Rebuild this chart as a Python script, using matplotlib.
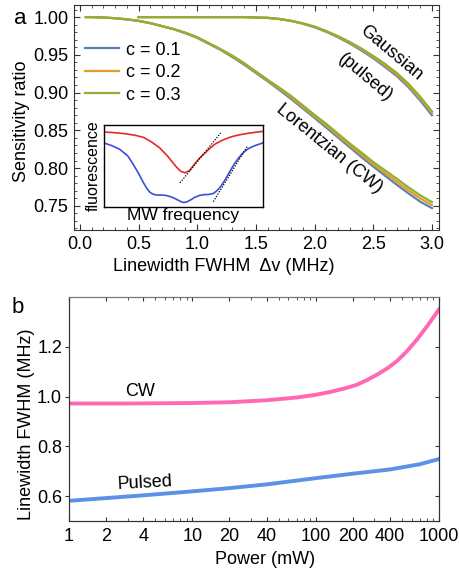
import matplotlib
matplotlib.use("Agg")
import matplotlib.pyplot as plt
from matplotlib.ticker import FixedLocator, NullFormatter, MultipleLocator

plt.rcParams['font.family'] = ['Liberation Sans', 'DejaVu Sans']

# panel a: sensitivity ratio vs linewidth
lor_x = [0.05, 0.1, 0.2, 0.3, 0.4, 0.5, 0.6, 0.7, 0.8, 0.9, 1.0, 1.1, 1.2, 1.3, 1.4, 1.5,
         1.6, 1.7, 1.8, 1.9, 2.0, 2.1, 2.2, 2.3, 2.4, 2.5, 2.6, 2.7, 2.8, 2.9, 3.0]
lor_c1 = [1.000, 1.000, 0.9995, 0.9985, 0.997, 0.995, 0.992, 0.988, 0.984, 0.9785, 0.9725,
          0.9645, 0.9565, 0.947, 0.937, 0.926, 0.915, 0.9035, 0.8915, 0.879, 0.8665, 0.8535,
          0.8405, 0.8275, 0.8145, 0.802, 0.790, 0.778, 0.7665, 0.7555, 0.747]
lor_c2 = [1.000, 1.000, 0.9995, 0.9985, 0.997, 0.995, 0.992, 0.988, 0.984, 0.979, 0.973,
          0.965, 0.957, 0.948, 0.938, 0.927, 0.916, 0.905, 0.8935, 0.881, 0.8685, 0.856,
          0.843, 0.830, 0.8175, 0.805, 0.7935, 0.782, 0.7705, 0.760, 0.751]
lor_c3 = [1.000, 1.000, 0.9995, 0.9985, 0.997, 0.995, 0.992, 0.988, 0.984, 0.9795, 0.9735,
          0.9655, 0.9575, 0.949, 0.939, 0.928, 0.917, 0.9065, 0.8955, 0.883, 0.8705, 0.8585,
          0.8455, 0.8325, 0.8205, 0.808, 0.797, 0.786, 0.7745, 0.764, 0.755]

gau_x = [0.5, 0.8, 1.1, 1.4, 1.5, 1.6, 1.7, 1.8, 1.9, 2.0, 2.1, 2.2, 2.3, 2.4, 2.5, 2.6,
         2.7, 2.8, 2.9, 3.0]
gau_c1 = [1.000, 1.000, 1.000, 1.000, 0.9995, 0.999, 0.9975, 0.995, 0.9912, 0.9865, 0.9805,
          0.9732, 0.965, 0.9557, 0.9455, 0.934, 0.922, 0.9072, 0.8895, 0.870]
gau_c2 = [1.000, 1.000, 1.000, 1.000, 0.9995, 0.999, 0.9975, 0.995, 0.9915, 0.987, 0.981,
          0.974, 0.966, 0.957, 0.947, 0.936, 0.924, 0.9095, 0.892, 0.873]
gau_c3 = [1.000, 1.000, 1.000, 1.000, 0.9995, 0.999, 0.9975, 0.995, 0.9918, 0.9875, 0.9815,
          0.9748, 0.967, 0.9583, 0.9485, 0.938, 0.926, 0.9118, 0.8945, 0.875]

c_labels = ['c = 0.1', 'c = 0.2', 'c = 0.3']
c_colors = ['#5E81B5', '#E19C24', '#8FB032']

# inset: sketch of fluorescence dips (box-normalised)
red_x = [0.0, 0.05, 0.10, 0.15, 0.20, 0.25, 0.30, 0.35, 0.40, 0.45, 0.48, 0.51, 0.54, 0.57,
         0.60, 0.63, 0.66, 0.70, 0.75, 0.80, 0.85, 0.90, 0.95, 1.0]
red_y = [0.911, 0.905, 0.897, 0.886, 0.870, 0.845, 0.79, 0.72, 0.62, 0.50, 0.438, 0.415,
         0.445, 0.52, 0.59, 0.645, 0.70, 0.765, 0.815, 0.852, 0.876, 0.893, 0.907, 0.919]
blue_x = [0.0, 0.05, 0.10, 0.15, 0.185, 0.22, 0.25, 0.27, 0.29, 0.31, 0.33, 0.36, 0.39, 0.42,
          0.45, 0.48, 0.50, 0.52, 0.545, 0.57, 0.60, 0.63, 0.66, 0.69, 0.71, 0.73, 0.76,
          0.79, 0.82, 0.85, 0.88, 0.91, 0.95, 1.0]
blue_y = [0.778, 0.745, 0.70, 0.62, 0.516, 0.40, 0.29, 0.225, 0.178, 0.155, 0.146, 0.145,
          0.141, 0.125, 0.100, 0.070, 0.055, 0.060, 0.085, 0.115, 0.140, 0.150, 0.152, 0.165,
          0.195, 0.235, 0.32, 0.42, 0.52, 0.60, 0.665, 0.71, 0.745, 0.778]
tan_red_x = [0.479, 0.735]
tan_red_y = [0.294, 0.899]
tan_blue_x = [0.689, 0.903]
tan_blue_y = [0.065, 0.738]

# panel b: linewidth vs power
cw_p = [1, 3, 10, 20, 40, 70, 100, 130, 170, 215, 260, 315, 380, 455, 550, 660, 800, 900, 1000]
cw_w = [0.972, 0.972, 0.974, 0.977, 0.985, 0.996, 1.007, 1.018, 1.032, 1.047, 1.066, 1.088,
        1.113, 1.142, 1.182, 1.228, 1.282, 1.318, 1.35]
pulsed_p = [1, 2, 4, 10, 20, 40, 100, 200, 400, 700, 1000]
pulsed_w = [0.581, 0.592, 0.603, 0.619, 0.632, 0.647, 0.672, 0.690, 0.707, 0.728, 0.749]
power_ticks = [1, 2, 4, 10, 20, 40, 100, 200, 400, 1000]

frame_col = '#333333'
fs = 13

fig = plt.figure(figsize=(4.59, 5.71), dpi=100)

# ---------------- panel a ----------------
ax = fig.add_axes([0.1612, 0.5972, 0.7952, 0.394])
for yl, yg, col, lab in zip([lor_c1, lor_c2, lor_c3], [gau_c1, gau_c2, gau_c3], c_colors, c_labels):
    ax.plot(lor_x, yl, color=col, lw=1.6, label=lab)
    ax.plot(gau_x, yg, color=col, lw=1.6)
ax.set_xlim(-0.05, 3.06)
ax.set_ylim(0.718, 1.016)
ax.set_xticks([0.0, 0.5, 1.0, 1.5, 2.0, 2.5, 3.0])
ax.set_yticks([0.75, 0.80, 0.85, 0.90, 0.95, 1.00])
ax.xaxis.set_minor_locator(MultipleLocator(0.1))
ax.yaxis.set_minor_locator(MultipleLocator(0.01))
ax.tick_params(which='both', direction='in', top=True, right=True, labelsize=fs, color=frame_col, pad=4)
ax.tick_params(which='major', length=4)
ax.tick_params(which='minor', length=2)
for s in ax.spines.values():
    s.set_color(frame_col)
ax.set_ylabel('Sensitivity ratio', fontsize=fs)
ax.yaxis.set_label_coords(-0.12, 0.485)
ax.set_xlabel('Linewidth FWHM  Δv (MHz)', fontsize=fs)
ax.xaxis.set_label_coords(0.41, -0.125)
ax.legend(loc='upper left', bbox_to_anchor=(0.0, 0.885), frameon=False, fontsize=fs,
          handlelength=1.9, handletextpad=0.4, labelspacing=0.3, borderaxespad=0.2)
fig.text(391 / 459, 1 - 53 / 571, 'Gaussian', fontsize=fs, rotation=-40,
         ha='center', va='center')
fig.text(365 / 459, 1 - 77 / 571, '(pulsed)', fontsize=fs, rotation=-40,
         ha='center', va='center')
fig.text(329 / 459, 1 - 149 / 571, 'Lorentzian (CW)', fontsize=fs, rotation=-39,
         ha='center', va='center')
fig.text(20 / 459, 1 - 18 / 571, 'a', fontsize=16, ha='center', va='center')

# inset
ins = fig.add_axes([0.2266, 0.6375, 0.3457, 0.1441])
ins.plot(red_x, red_y, color='#E8282A', lw=1.2)
ins.plot(blue_x, blue_y, color='#3A4FD8', lw=1.2)
ins.plot(tan_red_x, tan_red_y, color='black', lw=0.9, ls=(0, (1, 1.2)))
ins.plot(tan_blue_x, tan_blue_y, color='black', lw=0.9, ls=(0, (1, 1.2)))
ins.set_xlim(0, 1)
ins.set_ylim(0, 1)
ins.set_xticks([])
ins.set_yticks([])
for s in ins.spines.values():
    s.set_color('black')
    s.set_linewidth(1.0)
ins.set_xlabel('MW frequency', fontsize=fs - 0.5, labelpad=1)
ins.set_ylabel('fluorescence', fontsize=fs - 1.5, labelpad=2)

# ---------------- panel b ----------------
bx = fig.add_axes([0.1503, 0.0876, 0.8061, 0.3923])
bx.plot(cw_p, cw_w, color='#FF69B4', lw=2.8)
bx.plot(pulsed_p, pulsed_w, color='#5B91E6', lw=2.8)
bx.set_xscale('log')
bx.set_xlim(1, 1000)
bx.set_ylim(0.5, 1.4)
bx.xaxis.set_major_locator(FixedLocator(power_ticks))
bx.set_xticklabels([str(p) for p in power_ticks])
bx.xaxis.set_minor_locator(FixedLocator([3, 5, 6, 7, 8, 9, 30, 50, 60, 70, 80, 90,
                                         300, 500, 600, 700, 800, 900]))
bx.xaxis.set_minor_formatter(NullFormatter())
bx.set_yticks([0.6, 0.8, 1.0, 1.2])
bx.tick_params(axis='x', which='both', direction='in', top=True, labelsize=fs, color=frame_col, pad=5)
bx.tick_params(axis='x', which='major', length=3)
bx.tick_params(axis='x', which='minor', length=2)
bx.tick_params(axis='y', direction='out', length=3, labelsize=fs, color=frame_col, pad=2)
rx = bx.twinx()
rx.set_ylim(0.5, 1.4)
rx.set_yticks([0.6, 0.8, 1.0, 1.2])
rx.tick_params(axis='y', direction='in', length=3, labelright=False, color=frame_col)
for a_ in (bx, rx):
    for s in a_.spines.values():
        s.set_color(frame_col)
bx.spines['top'].set_color('#777777')
rx.spines['top'].set_color('#777777')
bx.set_xlabel('Power (mW)', fontsize=fs)
bx.xaxis.set_label_coords(0.53, -0.135)
bx.set_ylabel('Linewidth FWHM (MHz)', fontsize=fs)
bx.yaxis.set_label_coords(-0.092, 0.43)
fig.text(140 / 459, 1 - 392 / 571, 'CW', fontsize=fs, ha='center', va='center')
fig.text(145 / 459, 1 - 483 / 571, 'Pulsed', fontsize=fs, ha='center', va='center', rotation=3)
fig.text(18 / 459, 1 - 307 / 571, 'b', fontsize=16, ha='center', va='center')

fig.savefig('out.png', dpi=100)
